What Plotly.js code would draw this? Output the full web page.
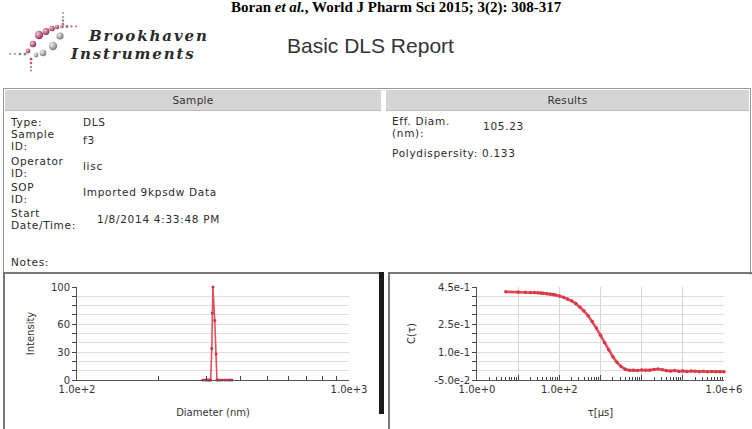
<!DOCTYPE html>
<html>
<head>
<meta charset="utf-8">
<script src="https://cdn.plot.ly/plotly-3.0.1.min.js"></script>
<style>
html,body{margin:0;padding:0;background:#fff;}
#page{position:relative;width:752px;height:429px;overflow:hidden;background:#fff;font-family:Tahoma,"DejaVu Sans",sans-serif;}
.t{position:absolute;font-size:10.5px;line-height:12px;color:#2a2a2a;white-space:nowrap;font-family:"DejaVu Sans",sans-serif;letter-spacing:0.7px;}
.box{position:absolute;box-sizing:border-box;}
.hdr{position:absolute;background:#d5d5d5;border-bottom:1px solid #bbb;font-family:"DejaVu Sans",sans-serif;font-size:10.5px;color:#333;text-align:center;line-height:20px;letter-spacing:0.3px;}
#cite{position:absolute;left:231px;top:0px;font-family:"Liberation Serif",serif;font-weight:bold;font-size:15px;line-height:15px;color:#000;white-space:nowrap;}
.brand{position:absolute;font-family:"DejaVu Serif",serif;font-style:italic;font-weight:bold;font-size:15px;line-height:16px;color:#2a2a2a;letter-spacing:1.9px;white-space:nowrap;}
#title{position:absolute;left:287px;top:34px;font-family:"Liberation Sans",Arial,sans-serif;font-size:21px;color:#333;white-space:nowrap;}
#left,#right{position:absolute;}
</style>
</head>
<body>
<div id="page">
  <div id="cite">Boran <i>et al.</i>, World J Pharm Sci 2015; 3(2): 308-317</div>
  <svg style="position:absolute;left:0;top:10px" width="100" height="62">
    <defs>
      <radialGradient id="gp" cx="35%" cy="35%" r="65%"><stop offset="0" stop-color="#f4c7d6"/><stop offset="1" stop-color="#9c2a50"/></radialGradient>
      <radialGradient id="gg" cx="35%" cy="35%" r="65%"><stop offset="0" stop-color="#f2f2f2"/><stop offset="1" stop-color="#7a7a7a"/></radialGradient>
    </defs>
    <circle cx="63" cy="3" r="1" fill="#999"/><circle cx="63" cy="7" r="1.1" fill="#999"/><circle cx="63" cy="10.5" r="1.2" fill="#888"/><circle cx="63" cy="14" r="1.3" fill="#888"/>
    <circle cx="39" cy="25" r="4.2" fill="url(#gp)"/><circle cx="46" cy="21.5" r="3.4" fill="url(#gp)"/><circle cx="52" cy="18.5" r="2.8" fill="url(#gp)"/><circle cx="57" cy="17" r="2.2" fill="url(#gp)"/><circle cx="62" cy="16.5" r="1.8" fill="url(#gp)"/><circle cx="67" cy="16.5" r="1.4" fill="#b45a7a"/><circle cx="71.5" cy="16.5" r="1.1" fill="#b45a7a"/><circle cx="76" cy="16.5" r="0.9" fill="#b45a7a"/>
    <circle cx="33" cy="34" r="3.2" fill="url(#gp)"/><circle cx="28" cy="41" r="2.4" fill="url(#gp)"/>
    <circle cx="60" cy="26" r="3.6" fill="url(#gg)"/><circle cx="53" cy="36" r="4.2" fill="url(#gg)"/><circle cx="43" cy="43" r="3.3" fill="url(#gg)"/><circle cx="36" cy="45" r="2.4" fill="url(#gg)"/>
    <circle cx="10" cy="44" r="1" fill="#999"/><circle cx="15" cy="44" r="1.1" fill="#999"/><circle cx="20" cy="44" r="1.3" fill="#888"/><circle cx="25" cy="44" r="1.5" fill="#888"/>
    <circle cx="31" cy="49" r="1.5" fill="#b45a7a"/><circle cx="31" cy="53" r="1.3" fill="#b45a7a"/><circle cx="31" cy="57" r="1.1" fill="#b45a7a"/><circle cx="31" cy="60.5" r="0.9" fill="#b45a7a"/>
  </svg>
  <div class="brand" style="left:89px;top:28px;">Brookhaven</div>
  <div class="brand" style="left:71px;top:46px;">Instruments</div>
  <div id="title">Basic DLS Report</div>

  <div class="box" style="left:3px;top:88px;width:748px;height:187px;border:1px solid #999;border-bottom:none;"></div>
  <div class="hdr" style="left:5px;top:90px;width:376px;height:20px;">Sample</div>
  <div class="hdr" style="left:386px;top:90px;width:363px;height:20px;">Results</div>

  <div class="t" style="left:11px;top:116px;">Type:</div>
  <div class="t" style="left:83px;top:116px;">DLS</div>
  <div class="t" style="left:11px;top:128px;">Sample<br>ID:</div>
  <div class="t" style="left:83px;top:134px;">f3</div>
  <div class="t" style="left:11px;top:155px;">Operator<br>ID:</div>
  <div class="t" style="left:83px;top:160px;">lisc</div>
  <div class="t" style="left:11px;top:181px;">SOP<br>ID:</div>
  <div class="t" style="left:83px;top:186px;">Imported 9kpsdw Data</div>
  <div class="t" style="left:11px;top:207px;">Start<br>Date/Time:</div>
  <div class="t" style="left:97px;top:213px;">1/8/2014 4:33:48 PM</div>
  <div class="t" style="left:11px;top:256px;">Notes:</div>

  <div class="t" style="left:392px;top:115px;">Eff. Diam.<br>(nm):</div>
  <div class="t" style="left:483px;top:120px;">105.23</div>
  <div class="t" style="left:392px;top:147px;">Polydispersity:&nbsp;0.133</div>

  <div class="box" style="left:3px;top:272px;width:381px;height:160px;border-top:2px solid #777;border-left:2px solid #777;"></div>
  <div class="box" style="left:379px;top:272px;width:5px;height:142px;background:#1a1a1a;"></div>
  <div class="box" style="left:388px;top:272px;width:364px;height:160px;border-top:2px solid #777;border-left:2px solid #777;"></div>

  <div id="left" style="left:6px;top:276px;width:370px;height:152px;"></div>
  <div id="right" style="left:392px;top:276px;width:358px;height:152px;"></div>
</div>
<script>
// ---- Intensity distribution (left chart) ----
var diameterNm = [290, 296, 301, 305, 308, 310, 313, 314.4, 316, 321, 324.5, 327, 330, 336, 342, 350, 358, 365, 371];
var intensity  = [0,   0,   0,   0,   0,   0,   34,  72,    100, 64,  28,    0,   0,   0,   0,   0,   0,   0,   0];
var leftXTickVals = [100, 200, 300, 400, 500, 600, 700, 800, 900, 1000];
var leftXTickText = ['1.0e+2', '', '', '', '', '', '', '', '', '1.0e+3'];
var leftYTickVals = [0, 10, 20, 30, 40, 50, 60, 70, 80, 90, 100];
var leftYTickText = ['0', '', '', '30', '', '', '60', '', '', '', '100'];

// ---- Correlation function (right chart) ----
var tauUs = [5, 10, 15, 20, 25, 30, 35, 40, 50, 60, 70, 80, 100, 126, 158, 200, 251, 316, 398, 501, 631, 794, 1000, 1259, 1585, 1995, 2512, 3162, 3981, 5012, 6310, 7943, 10000, 12589, 15849, 19953, 25119, 31623, 39811, 50119, 63096, 79433, 100000, 125893, 158489, 199526, 251189, 316228, 398107, 501187, 630957, 794328, 1000000];
var cTau  = [0.424, 0.423, 0.422, 0.421, 0.420, 0.419, 0.418, 0.417, 0.414, 0.412, 0.410, 0.408, 0.402, 0.395, 0.386, 0.375, 0.361, 0.343, 0.321, 0.295, 0.264, 0.229, 0.190, 0.150, 0.111, 0.075, 0.045, 0.022, 0.008, 0.002, 0.003, 0.001, 0.004, 0.002, 0.003, 0.007, 0.009, 0.005, 0.000, -0.002, 0.001, -0.003, -0.001, -0.004, -0.002, -0.003, -0.005, -0.003, -0.006, -0.004, -0.006, -0.005, -0.006];
var rightXTickVals = [1, 10, 100, 1000, 10000, 100000, 1000000];
var rightXTickText = ['1.0e+0', '', '1.0e+2', '', '', '', '1.0e+6'];
var rightXMinor = [2,3,4,5,6,7,8,9, 20,30,40,50,60,70,80,90, 200,300,400,500,600,700,800,900, 2000,3000,4000,5000,6000,7000,8000,9000, 20000,30000,40000,50000,60000,70000,80000,90000, 200000,300000,400000,500000,600000,700000,800000,900000];
var rightYTickVals = [-0.05, 0, 0.05, 0.10, 0.15, 0.20, 0.25, 0.30, 0.35, 0.40, 0.45];
var rightYTickText = ['-5.0e-2', '', '', '1.0e-1', '', '', '2.5e-1', '', '', '', '4.5e-1'];

var red = '#e0505c';
var font = {family: 'Tahoma, "DejaVu Sans", sans-serif', size: 10, color: '#333'};

Plotly.newPlot('left', [{
  x: diameterNm, y: intensity, type: 'scatter', mode: 'lines+markers',
  line: {color: red, width: 1.6}, marker: {color: '#d03040', size: 3}, cliponaxis: false
}], {
  width: 370, height: 152, margin: {l: 71, r: 27, t: 11, b: 48},
  paper_bgcolor: 'rgba(0,0,0,0)', plot_bgcolor: 'rgba(0,0,0,0)', showlegend: false, font: font,
  xaxis: {type: 'log', range: [2, 3], tickmode: 'array', tickvals: leftXTickVals, ticktext: leftXTickText,
    ticks: 'inside', ticklen: 4, tickcolor: '#444', showgrid: false, showline: true, linecolor: '#555',
    zeroline: false, fixedrange: true, title: {text: 'Diameter (nm)', standoff: 14, font: {size: 10}}},
  yaxis: {range: [0, 100], tickmode: 'array', tickvals: leftYTickVals, ticktext: leftYTickText,
    ticks: 'outside', ticklen: 4, tickcolor: '#444', showgrid: true, gridcolor: '#dedede', showline: true,
    linecolor: '#555', zeroline: false, fixedrange: true, title: {text: 'Intensity', standoff: 14, font: {size: 10}}}
}, {displayModeBar: false, staticPlot: true});

Plotly.newPlot('right', [{
  x: tauUs, y: cTau, type: 'scatter', mode: 'lines+markers',
  line: {color: red, width: 2.6}, marker: {color: '#d83848', size: 3.5}, cliponaxis: false
}], {
  width: 358, height: 152, margin: {l: 85, r: 26, t: 11, b: 48},
  paper_bgcolor: 'rgba(0,0,0,0)', plot_bgcolor: 'rgba(0,0,0,0)', showlegend: false, font: font,
  xaxis: {type: 'log', range: [0, 6], tickmode: 'array', tickvals: rightXTickVals, ticktext: rightXTickText,
    ticks: 'inside', ticklen: 5, tickcolor: '#444', showgrid: true, gridcolor: '#d6d6d6', showline: true,
    linecolor: '#555', zeroline: false, fixedrange: true,
    minor: {tickmode: 'array', tickvals: rightXMinor, ticks: 'inside', ticklen: 3, tickcolor: '#444', showgrid: false},
    title: {text: 'τ[μs]', standoff: 14, font: {size: 10}}},
  yaxis: {range: [-0.05, 0.45], tickmode: 'array', tickvals: rightYTickVals, ticktext: rightYTickText,
    ticks: 'outside', ticklen: 4, tickcolor: '#444', showgrid: true, gridcolor: '#dedede', showline: true,
    linecolor: '#555', zeroline: false, fixedrange: true, title: {text: 'C(τ)', standoff: 16, font: {size: 10}}}
}, {displayModeBar: false, staticPlot: true});
</script>
</body>
</html>
